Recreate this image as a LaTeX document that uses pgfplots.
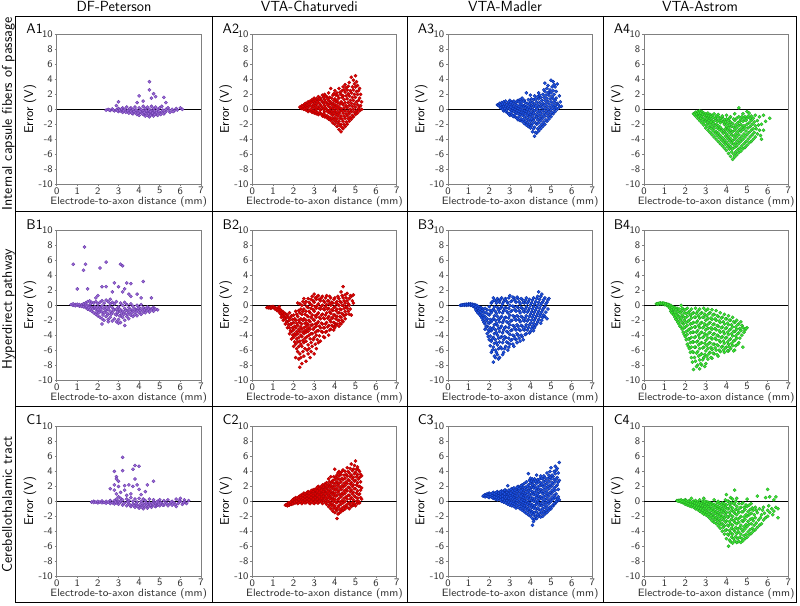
\documentclass[border=0pt]{standalone}
\usepackage{pgfplots}
\pgfplotsset{compat=1.18}
\renewcommand{\familydefault}{\sfdefault}
\definecolor{pfill}{RGB}{155,105,215}
\definecolor{pdraw}{RGB}{105,60,170}
\definecolor{rfill}{RGB}{225,0,0}
\definecolor{rdraw}{RGB}{175,0,0}
\definecolor{bfill}{RGB}{30,85,230}
\definecolor{bdraw}{RGB}{10,45,160}
\definecolor{gfill}{RGB}{60,235,50}
\definecolor{gdraw}{RGB}{35,165,35}
\pgfplotsset{
 panel/.style={
  scale only axis, width=108.2pt, height=112pt,
  xmin=0, xmax=7, ymin=-10, ymax=10,
  xtick={0,1,...,7}, ytick={-10,-8,...,10},
  axis line style={draw=black!50, line width=0.6pt},
  tick style={draw=black!50, line width=0.5pt},
  tick align=outside, tick pos=left, major tick length=1.5pt,
  /pgf/number format/assume math mode=true,
  ticklabel style={font=\fontsize{7.5}{8}\selectfont, text=black!80},
  xticklabel style={inner sep=0.8pt},
  yticklabel style={inner sep=1.2pt},
  xlabel={Electrode-to-axon distance (mm)},
  ylabel={Error (V)},
  every axis x label/.style={at={(axis description cs:0.5,-0.134)}, anchor=base, font=\fontsize{8}{9}\selectfont, text=black!80},
  every axis y label/.style={at={(axis description cs:-0.185,0.5)}, anchor=center, rotate=90, font=\fontsize{9.5}{10}\selectfont},
 },
 pu/.style={only marks, mark=*, mark size=1.2pt, mark options={fill=pfill, draw=pdraw, line width=0.3pt}},
 re/.style={only marks, mark=*, mark size=1.2pt, mark options={fill=rfill, draw=rdraw, line width=0.3pt}},
 bl/.style={only marks, mark=*, mark size=1.2pt, mark options={fill=bfill, draw=bdraw, line width=0.3pt}},
 gr/.style={only marks, mark=*, mark size=1.2pt, mark options={fill=gfill, draw=gdraw, line width=0.3pt}},
 zl/.style={black, line width=0.6pt, forget plot},
}
\begin{document}
\begin{tikzpicture}
\useasboundingbox (0,0) rectangle (600pt,-454.5pt);
% frame
\draw[black, line width=0.7pt] (11.8pt,-12pt) rectangle (597.4pt,-451.7pt);
\foreach \xx in {159pt,305.3pt,452.3pt} \draw[black, line width=0.7pt] (\xx,-12pt) -- (\xx,-451.7pt);
\foreach \yy in {-158.8pt,-305pt} \draw[black, line width=0.7pt] (11.8pt,\yy) -- (597.4pt,\yy);
% headers
\begin{scope}[every node/.style={font=\fontsize{11}{12}\selectfont, anchor=base}]
\node at (85.5pt,-8.8pt) {DF-Peterson};
\node at (232pt,-8.8pt) {VTA-Chaturvedi};
\node at (378.8pt,-8.8pt) {VTA-Madler};
\node at (525pt,-8.8pt) {VTA-Astrom};
\end{scope}
\begin{scope}[every node/.style={font=\fontsize{10.5}{12}\selectfont, anchor=base, rotate=90}]
\node at (9pt,-85.4pt) {Internal capsule fibers of passage};
\node at (9pt,-231.9pt) {Hyperdirect pathway};
\node at (9pt,-378.4pt) {Cerebellothalamic tract};
\end{scope}
\begin{scope}[every node/.style={font=\fontsize{10.5}{12}\selectfont, anchor=base west}]
\node at (16.3pt,-25pt) {A1}; \node at (163.5pt,-25pt) {A2}; \node at (309.8pt,-25pt) {A3}; \node at (456.8pt,-25pt) {A4};
\node at (16.3pt,-172pt) {B1}; \node at (163.5pt,-172pt) {B2}; \node at (309.8pt,-172pt) {B3}; \node at (456.8pt,-172pt) {B4};
\node at (16.3pt,-318.5pt) {C1}; \node at (163.5pt,-318.5pt) {C2}; \node at (309.8pt,-318.5pt) {C3}; \node at (456.8pt,-318.5pt) {C4};
\end{scope}

% ---------------- A1
\begin{axis}[panel, at={(42.5pt,-138pt)}, anchor=south west]
\addplot[pu] coordinates {(2.4,-0.1)(2.5,0)(2.6,-0.15)(2.7,0.05)(2.8,-0.2)(2.9,-0.05)(3.0,-0.3)(3.0,0.1)(3.1,-0.2)(3.2,0.2)(3.2,-0.4)(3.3,0)(3.4,-0.3)(3.4,0.3)(3.5,-0.5)(3.5,-0.1)(3.6,0.2)(3.6,-0.3)(3.7,-0.6)(3.7,0)(3.8,0.3)(3.8,-0.4)(3.9,-0.7)(3.9,-0.2)(4.0,0.2)(4.0,-0.5)(4.0,-0.8)(4.1,0)(4.1,-0.4)(4.2,0.4)(4.2,-0.7)(4.2,-0.2)(4.3,-0.9)(4.3,0.1)(4.3,-0.5)(4.4,0.3)(4.4,-0.3)(4.4,-0.8)(4.5,-1.0)(4.5,0)(4.5,-0.5)(4.6,0.4)(4.6,-0.7)(4.6,-0.2)(4.7,-0.9)(4.7,0.1)(4.7,-0.4)(4.8,0.3)(4.8,-0.6)(4.9,-0.8)(4.9,0)(5.0,0.2)(5.0,-0.5)(5.1,-0.3)(5.1,0.4)(5.2,-0.6)(5.3,0)(5.3,-0.3)(5.4,0.2)(5.5,-0.4)(5.6,0)(5.7,-0.2)(5.8,0.1)(6.0,0.2)(6.1,0)
(4.5,3.7)(4.5,2.6)(4.7,2.1)(4.0,1.8)(4.8,1.7)(5.2,1.6)(4.6,1.5)(3.0,1.0)(5.3,0.9)(2.9,0.5)(3.9,0.9)(4.2,1.1)
(2.55,-0.1)(2.75,-0.1)(2.95,-0.2)(3.05,-0.1)(3.15,0.05)(3.25,-0.2)(3.35,-0.4)(3.45,-0.2)(3.55,0.1)(3.65,-0.5)(3.75,-0.3)(3.85,-0.1)(3.95,-0.5)(4.05,-0.3)(4.15,-0.6)(4.25,-0.4)(4.35,-0.2)(4.45,-0.6)(4.55,-0.8)(4.55,-0.3)(4.65,-0.5)(4.75,-0.7)(4.75,-0.2)(4.85,-0.4)(4.95,-0.3)(5.05,-0.7)(5.15,-0.1)(5.25,-0.4)(5.45,-0.1)(5.65,-0.3)(5.85,-0.1)};
\addplot[zl] coordinates {(0,0)(7,0)};
\end{axis}
% ---------------- A2
\begin{axis}[panel, at={(189.3pt,-138pt)}, anchor=south west]
\addplot[re] coordinates {(2.3,0.3)(2.4,0.1)(2.4,0.5)(2.5,0)(2.5,0.6)(2.5,0.3)(2.6,-0.1)(2.6,0.8)(2.6,0.4)(2.7,-0.3)(2.7,1.0)(2.7,0.3)(2.8,-0.2)(2.8,0.5)(2.8,1.1)(2.9,-0.4)(2.9,0.3)(2.9,1.3)
(3.0,-0.5)(3.0,0.2)(3.0,0.9)(3.0,1.5)(3.1,-0.6)(3.1,0)(3.1,0.7)(3.1,1.4)(3.2,-0.7)(3.2,0.3)(3.2,1.2)(3.2,1.7)(3.3,-0.5)(3.3,-0.1)(3.3,0.6)(3.3,1.5)(3.4,-0.9)(3.4,0.2)(3.4,1.0)(3.4,1.9)
(3.5,-1.0)(3.5,-0.3)(3.5,0.5)(3.5,1.3)(3.5,2.0)(3.6,-1.1)(3.6,0)(3.6,0.9)(3.6,1.7)(3.7,-1.3)(3.7,-0.4)(3.7,0.4)(3.7,1.2)(3.7,2.2)(3.8,-1.5)(3.8,-0.6)(3.8,0.2)(3.8,1.0)(3.8,2.8)(3.9,-1.8)(3.9,-0.8)(3.9,0.1)(3.9,0.8)(3.9,1.9)
(4.0,-2.0)(4.0,-1.1)(4.0,-0.2)(4.0,0.6)(4.0,1.4)(4.0,2.5)(4.1,-2.3)(4.1,-1.3)(4.1,-0.4)(4.1,0.5)(4.1,1.2)(4.1,2.2)(4.2,-2.7)(4.2,-1.6)(4.2,-0.6)(4.2,0.3)(4.2,1.5)(4.2,2.8)(4.3,-3.0)(4.3,-2.0)(4.3,-0.9)(4.3,0.1)(4.3,1.0)(4.3,2.0)
(4.4,-2.6)(4.4,-1.6)(4.4,-0.5)(4.4,0.6)(4.4,1.8)(4.4,3.0)(4.5,-2.3)(4.5,-1.2)(4.5,-0.2)(4.5,0.9)(4.5,2.3)(4.5,3.3)(4.6,-2.0)(4.6,-0.9)(4.6,0.2)(4.6,1.4)(4.6,2.6)(4.7,-1.6)(4.7,-0.6)(4.7,0.5)(4.7,1.8)(4.7,3.6)
(4.8,-1.3)(4.8,-0.3)(4.8,0.8)(4.8,2.2)(4.8,4.3)(4.9,-1.0)(4.9,0)(4.9,1.2)(4.9,2.6)(4.9,3.9)(5.0,-0.7)(5.0,0.3)(5.0,1.6)(5.0,3.0)(5.0,4.5)(5.1,-0.5)(5.1,0.6)(5.1,2.0)(5.1,3.2)(5.2,-0.2)(5.2,0.4)(5.2,1.5)(5.2,2.8)(5.3,0)(5.3,1.0)
(2.35,0.2)(2.45,0.4)(2.55,0.15)(2.55,0.75)(2.65,0.2)(2.65,0.6)(2.75,-0.1)(2.75,0.7)(2.85,0)(2.85,0.9)(2.95,-0.2)(2.95,0.6)(2.95,1.1)(3.05,-0.3)(3.05,0.5)(3.05,1.2)(3.15,-0.4)(3.15,0.3)(3.15,1.0)(3.25,-0.5)(3.25,0.1)(3.25,0.8)(3.25,1.4)(3.35,-0.7)(3.35,0.4)(3.35,1.2)(3.45,-0.6)(3.45,0)(3.45,0.8)(3.45,1.6)(3.55,-0.8)(3.55,0.2)(3.55,1.0)(3.55,1.8)(3.65,-0.9)(3.65,-0.3)(3.65,0.6)(3.65,1.4)(3.75,-1.1)(3.75,-0.1)(3.75,0.8)(3.75,1.6)(3.85,-1.2)(3.85,-0.3)(3.85,0.6)(3.85,1.5)(3.95,-1.4)(3.95,-0.5)(3.95,0.4)(3.95,1.2)(3.95,2.1)(4.05,-1.6)(4.05,-0.7)(4.05,0.2)(4.05,1.0)(4.05,1.9)(4.15,-1.9)(4.15,-0.9)(4.15,0)(4.15,0.9)(4.15,1.8)(4.25,-2.2)(4.25,-1.2)(4.25,-0.3)(4.25,0.7)(4.25,2.3)(4.35,-2.4)(4.35,-1.3)(4.35,-0.2)(4.35,0.8)(4.35,1.6)(4.35,2.5)(4.45,-2.0)(4.45,-0.9)(4.45,0.2)(4.45,1.3)(4.45,2.6)(4.55,-1.7)(4.55,-0.6)(4.55,0.5)(4.55,1.8)(4.55,2.9)(4.65,-1.3)(4.65,-0.3)(4.65,0.9)(4.65,2.1)(4.65,3.1)(4.75,-1.1)(4.75,0)(4.75,1.2)(4.75,2.5)(4.85,-0.8)(4.85,0.4)(4.85,1.6)(4.85,3.0)(4.95,-0.4)(4.95,0.7)(4.95,2.0)(4.95,3.4)(5.05,-0.2)(5.05,1.0)(5.05,2.4)(5.05,3.7)(5.15,0.1)(5.15,1.2)(5.15,2.5)(5.25,0.5)(5.25,2.0)};
\addplot[zl] coordinates {(0,0)(7,0)};
\end{axis}
% ---------------- A3
\begin{axis}[panel, at={(336pt,-138pt)}, anchor=south west]
\addplot[bl] coordinates {(2.4,0.6)(2.5,0.4)(2.5,0.8)(2.6,0.2)(2.6,0.9)(2.6,0.5)(2.7,-0.2)(2.7,0.4)(2.7,1.0)(2.8,-0.3)(2.8,0.3)(2.8,1.1)(2.9,-0.5)(2.9,0.2)(2.9,0.8)
(3.0,-0.8)(3.0,0)(3.0,0.6)(3.0,1.2)(3.1,-0.7)(3.1,-0.2)(3.1,0.4)(3.1,1.0)(3.2,-1.0)(3.2,-0.3)(3.2,0.3)(3.2,1.1)(3.3,-1.1)(3.3,-0.4)(3.3,0.2)(3.3,0.9)(3.4,-1.4)(3.4,-0.6)(3.4,0.1)(3.4,1.2)
(3.5,-1.5)(3.5,-0.7)(3.5,0)(3.5,0.7)(3.5,1.3)(3.6,-1.6)(3.6,-0.8)(3.6,-0.1)(3.6,0.6)(3.6,1.5)(3.7,-1.9)(3.7,-1.0)(3.7,-0.2)(3.7,0.5)(3.7,1.2)(3.8,-2.1)(3.8,-1.2)(3.8,-0.3)(3.8,0.4)(3.8,2.2)(3.9,-2.3)(3.9,-1.4)(3.9,-0.5)(3.9,0.3)(3.9,1.3)
(4.0,-2.5)(4.0,-1.6)(4.0,-0.7)(4.0,0.2)(4.0,1.0)(4.0,1.9)(4.1,-3.0)(4.1,-1.9)(4.1,-0.9)(4.1,0)(4.1,0.9)(4.2,-3.6)(4.2,-2.4)(4.2,-1.2)(4.2,-0.2)(4.2,0.7)(4.2,1.8)(4.3,-3.2)(4.3,-2.0)(4.3,-1.0)(4.3,0)(4.3,1.0)
(4.4,-2.9)(4.4,-1.8)(4.4,-0.8)(4.4,0.3)(4.4,1.4)(4.4,2.2)(4.5,-2.6)(4.5,-1.5)(4.5,-0.5)(4.5,0.5)(4.5,1.6)(4.6,-2.3)(4.6,-1.2)(4.6,-0.2)(4.6,0.8)(4.6,2.0)(4.7,-2.0)(4.7,-0.9)(4.7,0.1)(4.7,1.2)(4.7,2.4)(4.7,3.5)
(4.8,-1.6)(4.8,-0.6)(4.8,0.4)(4.8,1.5)(4.8,2.8)(4.9,-1.3)(4.9,-0.3)(4.9,0.7)(4.9,1.9)(4.9,2.3)(5.0,-1.0)(5.0,0)(5.0,1.0)(5.0,2.2)(5.0,3.9)(5.1,-0.6)(5.1,0.3)(5.1,1.4)(5.1,2.5)(5.1,3.7)(5.2,-0.3)(5.2,0.5)(5.2,1.2)(5.2,3.0)(5.3,0)(5.3,0.8)(5.3,3.4)(5.4,0.3)(5.4,1.8)(5.5,0.4)
(2.45,0.5)(2.55,0.6)(2.55,0.2)(2.65,0)(2.65,0.7)(2.75,0.1)(2.75,0.7)(2.85,-0.1)(2.85,0.6)(2.95,-0.6)(2.95,0.4)(2.95,1.0)(3.05,-0.4)(3.05,0.3)(3.05,0.9)(3.15,-0.9)(3.15,0.1)(3.15,0.7)(3.25,-0.7)(3.25,0)(3.25,0.6)(3.35,-1.2)(3.35,-0.2)(3.35,0.5)(3.35,1.1)(3.45,-1.0)(3.45,-0.3)(3.45,0.4)(3.45,1.0)(3.55,-1.3)(3.55,-0.4)(3.55,0.3)(3.55,1.0)(3.65,-1.4)(3.65,-0.5)(3.65,0.3)(3.65,1.1)(3.75,-1.6)(3.75,-0.6)(3.75,0.2)(3.75,0.9)(3.85,-1.8)(3.85,-0.8)(3.85,0)(3.85,0.8)(3.95,-2.0)(3.95,-1.0)(3.95,-0.1)(3.95,0.7)(4.05,-2.2)(4.05,-1.3)(4.05,-0.4)(4.05,0.5)(4.05,1.4)(4.15,-2.6)(4.15,-1.5)(4.15,-0.5)(4.15,0.4)(4.15,1.3)(4.25,-3.1)(4.25,-1.8)(4.25,-0.7)(4.25,0.3)(4.25,1.4)(4.35,-2.6)(4.35,-1.4)(4.35,-0.4)(4.35,0.6)(4.35,1.7)(4.45,-2.3)(4.45,-1.2)(4.45,-0.2)(4.45,0.9)(4.45,1.9)(4.55,-2.0)(4.55,-0.9)(4.55,0.2)(4.55,1.2)(4.65,-1.7)(4.65,-0.6)(4.65,0.5)(4.65,1.6)(4.65,2.6)(4.75,-1.4)(4.75,-0.3)(4.75,0.8)(4.75,1.9)(4.85,-1.0)(4.85,0)(4.85,1.1)(4.85,2.2)(4.85,3.2)(4.95,-0.7)(4.95,0.3)(4.95,1.4)(4.95,2.6)(5.05,-0.4)(5.05,0.6)(5.05,1.7)(5.05,3.0)(5.15,0)(5.15,0.9)(5.15,2.0)(5.15,3.3)(5.25,0.2)(5.25,1.5)(5.25,2.4)(5.35,0.6)(5.45,1.0)};
\addplot[zl] coordinates {(0,0)(7,0)};
\end{axis}
% ---------------- A4
\begin{axis}[panel, at={(483pt,-138pt)}, anchor=south west]
\addplot[gr] coordinates {(2.4,-0.6)(2.5,-0.4)(2.5,-0.9)(2.6,-0.3)(2.6,-1.2)(2.6,-0.7)(2.7,-0.2)(2.7,-1.5)(2.7,-0.8)(2.8,-0.3)(2.8,-1.8)(2.8,-1.0)(2.9,-0.5)(2.9,-2.1)(2.9,-1.3)
(3.0,-0.6)(3.0,-2.5)(3.0,-1.5)(3.0,-1.0)(3.1,-0.5)(3.1,-2.8)(3.1,-1.8)(3.1,-1.1)(3.2,-0.7)(3.2,-3.1)(3.2,-2.0)(3.2,-1.3)(3.3,-0.8)(3.3,-3.4)(3.3,-2.3)(3.3,-1.5)(3.4,-0.6)(3.4,-3.7)(3.4,-2.6)(3.4,-1.6)
(3.5,-0.9)(3.5,-4.0)(3.5,-3.0)(3.5,-2.0)(3.5,-1.3)(3.6,-1.0)(3.6,-4.3)(3.6,-3.2)(3.6,-2.2)(3.6,-0.7)(3.7,-1.2)(3.7,-4.6)(3.7,-3.5)(3.7,-2.4)(3.7,-1.8)(3.8,-1.1)(3.8,-4.9)(3.8,-3.8)(3.8,-2.7)(3.8,-0.9)(3.9,-1.4)(3.9,-5.2)(3.9,-4.1)(3.9,-3.0)(3.9,-2.0)
(4.0,-1.3)(4.0,-5.5)(4.0,-4.4)(4.0,-3.3)(4.0,-2.3)(4.0,-0.8)(4.1,-1.5)(4.1,-5.9)(4.1,-4.7)(4.1,-3.6)(4.1,-2.5)(4.2,-1.7)(4.2,-6.3)(4.2,-5.0)(4.2,-3.9)(4.2,-2.8)(4.2,-1.0)(4.3,-1.9)(4.3,-6.7)(4.3,-5.3)(4.3,-4.2)(4.3,-3.0)
(4.4,-1.5)(4.4,-6.4)(4.4,-5.1)(4.4,-4.0)(4.4,-2.8)(4.4,-0.6)(4.5,-1.2)(4.5,-6.1)(4.5,-4.9)(4.5,-3.7)(4.5,-2.5)(4.6,-1.0)(4.6,-5.8)(4.6,-4.6)(4.6,-3.4)(4.6,-2.2)(4.6,0.2)(4.7,-1.3)(4.7,-5.6)(4.7,-4.3)(4.7,-3.0)(4.7,-2.0)
(4.8,-0.6)(4.8,-5.3)(4.8,-4.0)(4.8,-2.7)(4.8,-1.6)(4.9,-1.0)(4.9,-5.1)(4.9,-3.7)(4.9,-2.4)(5.0,-0.3)(5.0,-4.8)(5.0,-3.4)(5.0,-2.0)(5.0,-1.2)(5.1,-0.5)(5.1,-4.5)(5.1,-3.1)(5.1,-1.8)(5.2,-0.9)(5.2,-4.3)(5.2,-2.8)(5.2,-1.5)
(5.3,-1.2)(5.3,-4.0)(5.3,-2.6)(5.4,-0.8)(5.4,-3.7)(5.4,-2.2)(5.5,-1.5)(5.5,-3.3)(5.6,-1.0)(5.6,-2.8)(5.7,-2.0)(5.7,-4.0)(5.8,-0.8)(5.8,-2.8)(6.1,-1.2)
(2.45,-0.7)(2.55,-0.6)(2.65,-0.5)(2.65,-1.0)(2.75,-0.5)(2.75,-1.2)(2.85,-0.7)(2.85,-1.4)(2.95,-0.8)(2.95,-1.7)(3.05,-0.8)(3.05,-1.3)(3.05,-2.1)(3.15,-0.9)(3.15,-1.5)(3.15,-2.4)(3.25,-1.0)(3.25,-1.7)(3.25,-2.6)(3.35,-1.1)(3.35,-1.9)(3.35,-2.9)(3.45,-1.2)(3.45,-2.2)(3.45,-3.2)(3.55,-1.6)(3.55,-2.5)(3.55,-3.5)(3.65,-1.5)(3.65,-2.7)(3.65,-3.8)(3.75,-1.5)(3.75,-2.9)(3.75,-4.1)(3.85,-1.7)(3.85,-3.2)(3.85,-4.4)(3.95,-1.7)(3.95,-2.6)(3.95,-3.6)(3.95,-4.7)(4.05,-1.9)(4.05,-2.8)(4.05,-3.9)(4.05,-5.0)(4.15,-1.2)(4.15,-2.1)(4.15,-3.1)(4.15,-4.2)(4.15,-5.3)(4.25,-2.3)(4.25,-3.4)(4.25,-4.5)(4.25,-5.7)(4.35,-1.3)(4.35,-2.4)(4.35,-3.6)(4.35,-4.7)(4.35,-6.0)(4.45,-2.1)(4.45,-3.3)(4.45,-4.5)(4.45,-5.7)(4.55,-1.8)(4.55,-3.0)(4.55,-4.2)(4.55,-5.4)(4.65,-1.6)(4.65,-2.7)(4.65,-3.9)(4.65,-5.2)(4.75,-1.0)(4.75,-2.4)(4.75,-3.6)(4.75,-4.9)(4.85,-1.2)(4.85,-2.2)(4.85,-3.3)(4.85,-4.6)(4.95,-1.5)(4.95,-2.9)(4.95,-4.3)(5.05,-0.9)(5.05,-2.5)(5.05,-4.0)(5.15,-1.2)(5.15,-2.3)(5.15,-3.7)(5.25,-2.0)(5.25,-3.4)(5.35,-1.7)(5.35,-3.1)(5.45,-2.6)(5.55,-2.1)(5.65,-3.5)(5.9,-1.6)};
\addplot[zl] coordinates {(0,0)(7,0)};
\end{axis}

% ---------------- B1
\begin{axis}[panel, at={(42.5pt,-285pt)}, anchor=south west]
\addplot[pu] coordinates {(0.7,0.1)(0.8,0)(0.8,0.2)(0.9,0.1)(0.9,-0.05)(1.0,0)(1.0,0.15)(1.1,-0.1)(1.1,0.1)(1.2,0.05)(1.2,-0.15)(1.3,-0.2)(1.3,0.2)(1.4,0.3)(1.4,-0.3)(1.4,0)(1.5,-0.5)(1.5,0.5)(1.5,0)(1.6,-0.6)(1.6,0.6)(1.6,-0.2)(1.7,-0.8)(1.7,0.4)(1.7,-0.3)(1.8,-1.0)(1.8,0.3)(1.8,-0.4)(1.9,-1.2)(1.9,0.5)(1.9,-0.5)
(2.0,-1.4)(2.0,0.2)(2.0,-0.6)(2.0,-0.2)(2.1,-1.6)(2.1,0.4)(2.1,-0.8)(2.1,-0.3)(2.2,-1.8)(2.2,0.6)(2.2,-0.9)(2.2,-0.1)(2.3,-2.0)(2.3,0.3)(2.3,-1.0)(2.3,-0.4)(2.4,-1.5)(2.4,0.7)(2.4,-0.7)(2.4,-0.2)(2.5,-1.9)(2.5,0.5)(2.5,-1.2)(2.5,-0.5)
(2.6,-1.6)(2.6,0.2)(2.6,-0.8)(2.6,0.8)(2.7,-2.1)(2.7,-1.0)(2.7,-0.3)(2.7,0.4)(2.8,-1.8)(2.8,-0.6)(2.8,0.2)(2.9,-2.2)(2.9,-1.3)(2.9,-0.5)(2.9,0.5)(3.0,-1.9)(3.0,-0.9)(3.0,-0.2)(3.1,-2.3)(3.1,-1.4)(3.1,-0.6)(3.1,0.3)
(3.2,-1.6)(3.2,-0.8)(3.2,0)(3.3,-2.0)(3.3,-1.1)(3.3,-0.4)(3.3,0.4)(3.4,-1.5)(3.4,-0.7)(3.4,0.1)(3.5,-1.8)(3.5,-1.0)(3.5,-0.3)(3.6,-1.3)(3.6,-0.6)(3.6,0.2)(3.7,-1.5)(3.7,-0.8)(3.7,-0.1)(3.8,-1.2)(3.8,-0.5)(3.9,-1.4)(3.9,-0.7)(3.9,0)
(4.0,-1.0)(4.0,-0.3)(4.1,-1.2)(4.1,-0.6)(4.1,0.1)(4.2,-0.9)(4.2,-0.3)(4.3,-1.0)(4.3,-0.5)(4.4,-0.7)(4.4,-0.2)(4.5,-0.9)(4.5,-0.4)(4.6,-0.6)(4.7,-0.8)(4.7,-0.3)(4.8,-0.5)(4.9,-0.6)
(0.8,5.5)(1.3,4.7)(1.35,7.8)(1.4,5.5)(2.1,5.0)(2.4,5.8)(3.1,5.5)(3.2,5.3)(4.2,3.2)(3.4,3.0)(2.8,3.0)(1.0,2.2)(1.5,2.2)(2.2,2.5)(2.4,2.5)(3.0,2.5)(3.3,2.2)(3.6,2.9)(3.9,1.5)(4.1,1.0)(4.6,1.0)(2.7,1.8)(3.5,1.5)(2.0,1.3)(1.9,1.0)(3.2,1.8)(3.6,1.2)(2.2,-2.5)(3.3,-2.7)(2.5,-2.2)(3.0,-2.4)
(1.45,-0.15)(1.55,-0.3)(1.65,0.2)(1.75,-0.5)(1.85,-0.2)(1.95,-0.9)(2.05,-1.0)(2.15,-0.5)(2.25,-1.3)(2.35,-0.6)(2.45,-1.1)(2.55,-0.2)(2.65,-1.2)(2.75,-0.6)(2.85,-1.2)(2.95,-0.9)(3.05,-1.4)(3.05,-0.5)(3.15,-1.0)(3.25,-1.2)(3.35,-0.7)(3.45,-1.2)(3.55,-0.6)(3.65,-1.0)(3.75,-0.5)(3.85,-0.9)(3.95,-0.4)(4.05,-0.7)(4.25,-0.6)(4.45,-0.5)(4.65,-0.4)};
\addplot[zl] coordinates {(0,0)(7,0)};
\end{axis}
% ---------------- B2
\begin{axis}[panel, at={(189.3pt,-285pt)}, anchor=south west]
\addplot[re] coordinates {(0.7,-0.3)(0.8,-0.25)(0.8,-0.35)(0.9,-0.2)(0.9,-0.4)(1.0,-0.15)(1.0,-0.3)(1.1,-0.3)(1.1,-0.5)(1.2,-0.4)(1.2,-0.7)(1.3,-0.5)(1.3,-0.9)(1.3,-0.2)(1.4,-0.7)(1.4,-1.2)(1.4,-1.6)(1.5,-0.9)(1.5,-1.5)(1.5,-2.0)(1.6,-1.1)(1.6,-1.8)(1.6,-2.5)(1.7,-1.3)(1.7,-2.2)(1.7,-3.0)
(1.8,-1.0)(1.8,-2.0)(1.8,-3.0)(1.8,-3.8)(1.9,-1.4)(1.9,-2.5)(1.9,-3.5)(1.9,-4.5)(2.0,-1.3)(2.0,-2.3)(2.0,-3.3)(2.0,-4.3)(2.0,-5.5)(2.1,-0.8)(2.1,-2.0)(2.1,-3.0)(2.1,-4.0)(2.1,-5.2)(2.1,-7.0)(2.2,0.3)(2.2,-1.5)(2.2,-2.7)(2.2,-3.8)(2.2,-4.9)(2.2,-6.2)
(2.3,0.2)(2.3,-1.0)(2.3,-2.3)(2.3,-3.5)(2.3,-4.8)(2.3,-6.5)(2.3,-8.3)(2.4,0)(2.4,-1.2)(2.4,-2.5)(2.4,-3.2)(2.4,-4.2)(2.4,-5.5)(2.4,-7.8)(2.5,0.9)(2.5,-0.5)(2.5,-1.8)(2.5,-3.0)(2.5,-3.8)(2.5,-5.0)(2.5,-6.8)
(2.6,0.5)(2.6,-0.8)(2.6,-2.0)(2.6,-2.8)(2.6,-3.6)(2.6,-4.8)(2.6,-7.5)(2.7,0.9)(2.7,-0.3)(2.7,-1.5)(2.7,-2.6)(2.7,-3.5)(2.7,-5.3)(2.7,-6.5)(2.8,0.2)(2.8,-1.0)(2.8,-2.2)(2.8,-3.2)(2.8,-4.5)(2.8,-7.0)(2.9,1.2)(2.9,0)(2.9,-1.3)(2.9,-2.6)(2.9,-3.8)(2.9,-5.5)
(3.0,1.5)(3.0,0.4)(3.0,-0.8)(3.0,-2.0)(3.0,-3.0)(3.0,-4.3)(3.0,-6.5)(3.1,0.8)(3.1,-0.4)(3.1,-1.6)(3.1,-2.8)(3.1,-4.0)(3.1,-5.8)(3.2,1.3)(3.2,0.2)(3.2,-1.0)(3.2,-2.2)(3.2,-3.4)(3.2,-5.0)(3.3,0.6)(3.3,-0.5)(3.3,-1.8)(3.3,-3.0)(3.3,-4.8)
(3.4,1.2)(3.4,0)(3.4,-1.2)(3.4,-2.5)(3.4,-3.6)(3.5,0.4)(3.5,-0.6)(3.5,-1.8)(3.5,-3.0)(3.5,-4.3)(3.6,1.3)(3.6,0.1)(3.6,-1.0)(3.6,-2.3)(3.6,-3.5)(3.7,0.6)(3.7,-0.4)(3.7,-1.5)(3.7,-2.7)(3.7,-4.0)(3.8,1.0)(3.8,0)(3.8,-1.1)(3.8,-2.2)(3.8,-3.2)
(3.9,0.3)(3.9,-0.7)(3.9,-1.7)(3.9,-2.8)(4.0,1.0)(4.0,-0.2)(4.0,-1.3)(4.0,-2.4)(4.0,-3.0)(4.1,0.5)(4.1,-0.5)(4.1,-1.5)(4.1,-2.5)(4.2,0.9)(4.2,0)(4.2,-1.0)(4.2,-2.0)(4.2,-2.8)(4.3,1.8)(4.3,0.4)(4.3,-0.6)(4.3,-1.6)(4.3,-2.5)
(4.4,2.5)(4.4,1.0)(4.4,0)(4.4,-1.2)(4.4,-2.2)(4.5,1.4)(4.5,0.3)(4.5,-0.8)(4.5,-1.8)(4.6,1.6)(4.6,0.6)(4.6,-0.4)(4.7,0.9)(4.7,0)(4.7,-1.2)(4.8,1.2)(4.8,-1.3)(4.9,1.4)(4.9,0.3)
(0.75,-0.28)(0.85,-0.3)(0.95,-0.3)(1.05,-0.25)(1.15,-0.4)(1.25,-0.55)(1.35,-0.6)(1.35,-1.1)(1.45,-1.0)(1.45,-1.4)(1.55,-1.2)(1.55,-1.8)(1.65,-1.5)(1.65,-2.2)(1.75,-1.7)(1.75,-2.6)(1.85,-1.6)(1.85,-2.5)(1.85,-3.4)(1.95,-1.9)(1.95,-3.0)(1.95,-4.0)(2.05,-1.8)(2.05,-2.8)(2.05,-3.8)(2.05,-4.9)(2.15,-1.2)(2.15,-2.4)(2.15,-3.5)(2.15,-4.5)(2.15,-5.8)(2.25,-0.7)(2.25,-2.0)(2.25,-3.2)(2.25,-4.3)(2.25,-5.5)(2.25,-7.2)(2.35,-0.5)(2.35,-1.8)(2.35,-2.9)(2.35,-4.0)(2.35,-5.2)(2.35,-7.0)(2.45,0.5)(2.45,-0.8)(2.45,-2.0)(2.45,-3.6)(2.45,-4.7)(2.45,-6.2)(2.55,0.2)(2.55,-1.2)(2.55,-2.4)(2.55,-3.4)(2.55,-4.4)(2.55,-5.8)(2.65,-0.2)(2.65,-1.4)(2.65,-2.4)(2.65,-3.2)(2.65,-4.2)(2.65,-6.0)(2.75,0.4)(2.75,-0.8)(2.75,-2.0)(2.75,-3.0)(2.75,-4.0)(2.75,-5.8)(2.85,0.8)(2.85,-0.4)(2.85,-1.6)(2.85,-2.7)(2.85,-3.8)(2.85,-5.0)(2.85,-6.2)(2.95,0.6)(2.95,-0.6)(2.95,-1.9)(2.95,-3.2)(2.95,-4.6)(3.05,1.0)(3.05,-0.2)(3.05,-1.4)(3.05,-2.5)(3.05,-3.6)(3.05,-5.2)(3.15,1.2)(3.15,0)(3.15,-1.2)(3.15,-2.4)(3.15,-3.4)(3.15,-4.6)(3.25,0.8)(3.25,-0.4)(3.25,-1.6)(3.25,-2.8)(3.25,-4.1)(3.35,1.0)(3.35,-0.1)(3.35,-1.3)(3.35,-2.4)(3.35,-3.5)(3.45,0.6)(3.45,-0.5)(3.45,-1.7)(3.45,-3.0)(3.45,-4.2)(3.55,1.0)(3.55,-0.2)(3.55,-1.3)(3.55,-2.5)(3.55,-3.6)(3.65,0.6)(3.65,-0.5)(3.65,-1.7)(3.65,-2.9)(3.75,1.2)(3.75,0.2)(3.75,-0.9)(3.75,-2.0)(3.75,-3.3)(3.85,0.4)(3.85,-0.6)(3.85,-1.7)(3.85,-2.7)(3.95,0.8)(3.95,-0.3)(3.95,-1.3)(3.95,-2.3)(3.95,-3.3)(4.05,0.3)(4.05,-0.7)(4.05,-1.8)(4.05,-2.7)(4.15,1.2)(4.15,0.1)(4.15,-1.0)(4.15,-2.0)(4.25,0.5)(4.25,-0.5)(4.25,-1.5)(4.25,-2.4)(4.35,1.3)(4.35,0)(4.35,-1.1)(4.35,-2.0)(4.45,0.6)(4.45,-0.4)(4.45,-1.4)(4.55,1.0)(4.55,-0.2)(4.55,-1.2)(4.65,0.2)(4.65,-0.8)(4.75,1.3)(4.75,-0.5)(4.85,0.6)};
\addplot[zl] coordinates {(0,0)(7,0)};
\end{axis}
% ---------------- B3
\begin{axis}[panel, at={(336pt,-285pt)}, anchor=south west]
\addplot[bl] coordinates {(0.6,0)(0.7,0.05)(0.8,0.1)(0.8,0)(0.9,0.15)(0.9,0)(1.0,0.2)(1.0,0.05)(1.1,0.2)(1.1,0)(1.2,0.15)(1.2,-0.1)(1.3,0.1)(1.3,-0.3)(1.4,0)(1.4,-0.5)(1.4,-0.8)(1.5,-0.2)(1.5,-0.7)(1.5,-1.1)(1.6,-0.3)(1.6,-1.0)(1.6,-1.5)(1.7,-0.5)(1.7,-1.3)(1.7,-2.0)
(1.8,-0.4)(1.8,-1.5)(1.8,-2.5)(1.8,-3.2)(1.9,-0.6)(1.9,-1.8)(1.9,-2.8)(1.9,-3.8)(2.0,-0.2)(2.0,-1.3)(2.0,-2.4)(2.0,-3.5)(2.0,-4.6)(2.1,0.3)(2.1,-1.0)(2.1,-2.2)(2.1,-3.4)(2.1,-4.8)(2.1,-6.3)(2.2,1.0)(2.2,-0.5)(2.2,-1.8)(2.2,-3.0)(2.2,-4.3)(2.2,-5.6)(2.2,-7.6)
(2.3,0.6)(2.3,-0.8)(2.3,-2.0)(2.3,-3.3)(2.3,-4.6)(2.3,-6.0)(2.3,-7.0)(2.4,0.9)(2.4,-0.3)(2.4,-1.5)(2.4,-2.7)(2.4,-4.0)(2.4,-5.3)(2.4,-6.6)(2.5,0.4)(2.5,-0.9)(2.5,-2.2)(2.5,-3.5)(2.5,-4.9)(2.5,-7.0)(2.6,1.0)(2.6,-0.2)(2.6,-1.5)(2.6,-2.8)(2.6,-4.2)(2.6,-5.8)
(2.7,0.5)(2.7,-0.7)(2.7,-2.0)(2.7,-3.3)(2.7,-4.6)(2.7,-6.3)(2.8,0.9)(2.8,-0.3)(2.8,-1.6)(2.8,-2.9)(2.8,-4.3)(2.8,-5.5)(2.9,0.3)(2.9,-1.0)(2.9,-2.3)(2.9,-3.6)(2.9,-5.0)(2.9,-6.0)(3.0,1.3)(3.0,0)(3.0,-1.3)(3.0,-2.6)(3.0,-3.9)(3.0,-5.2)
(3.1,0.6)(3.1,-0.7)(3.1,-2.0)(3.1,-3.3)(3.1,-4.6)(3.2,1.0)(3.2,-0.2)(3.2,-1.5)(3.2,-2.8)(3.2,-4.1)(3.2,-5.5)(3.3,0.4)(3.3,-0.8)(3.3,-2.0)(3.3,-3.3)(3.3,-4.6)(3.4,0.9)(3.4,-0.3)(3.4,-1.5)(3.4,-2.8)(3.4,-4.0)(3.5,0.2)(3.5,-1.0)(3.5,-2.2)(3.5,-3.4)(3.5,-4.8)
(3.6,0.8)(3.6,-0.4)(3.6,-1.6)(3.6,-2.8)(3.6,-4.2)(3.7,0.3)(3.7,-0.9)(3.7,-2.1)(3.7,-3.3)(3.8,1.0)(3.8,-0.2)(3.8,-1.4)(3.8,-2.6)(3.8,-3.8)(3.9,0.5)(3.9,-0.7)(3.9,-1.9)(3.9,-3.0)(4.0,0)(4.0,-1.2)(4.0,-2.4)(4.0,-3.5)
(4.1,0.7)(4.1,-0.5)(4.1,-1.6)(4.1,-2.8)(4.2,0.2)(4.2,-0.9)(4.2,-2.0)(4.2,-3.0)(4.3,0.9)(4.3,-0.3)(4.3,-1.4)(4.3,-2.5)(4.4,1.8)(4.4,0.4)(4.4,-0.8)(4.4,-1.9)(4.5,1.2)(4.5,0)(4.5,-1.2)(4.5,-2.4)(4.6,0.5)(4.6,-0.6)(4.6,-1.6)(4.7,1.0)(4.7,-0.2)(4.7,-1.5)(4.8,0.4)(4.8,-1.8)(4.9,0.9)
(0.65,0.02)(0.75,0.08)(0.85,0.12)(0.95,0.1)(1.05,0.12)(1.15,0.1)(1.25,0)(1.35,-0.2)(1.35,-0.6)(1.45,-0.4)(1.45,-1.0)(1.55,-0.5)(1.55,-1.3)(1.65,-0.7)(1.65,-1.7)(1.75,-0.9)(1.75,-1.7)(1.75,-2.3)(1.85,-1.0)(1.85,-2.0)(1.85,-2.9)(1.95,-1.2)(1.95,-2.3)(1.95,-3.3)(1.95,-4.2)(2.05,-0.7)(2.05,-1.9)(2.05,-3.0)(2.05,-4.1)(2.05,-5.4)(2.15,0.5)(2.15,-0.7)(2.15,-2.0)(2.15,-3.2)(2.15,-4.5)(2.15,-6.0)(2.25,0.7)(2.25,-0.2)(2.25,-1.4)(2.25,-2.6)(2.25,-3.8)(2.25,-5.1)(2.25,-6.8)(2.35,0.3)(2.35,-1.1)(2.35,-2.4)(2.35,-3.7)(2.35,-5.0)(2.35,-6.3)(2.45,0.6)(2.45,-0.6)(2.45,-1.9)(2.45,-3.1)(2.45,-4.4)(2.45,-5.8)(2.45,-7.2)(2.55,0.8)(2.55,-0.4)(2.55,-1.7)(2.55,-3.0)(2.55,-4.3)(2.55,-5.6)(2.65,0.2)(2.65,-1.0)(2.65,-2.3)(2.65,-3.7)(2.65,-5.0)(2.65,-6.6)(2.75,0.8)(2.75,-0.4)(2.75,-1.7)(2.75,-3.0)(2.75,-4.2)(2.75,-5.8)(2.85,0.5)(2.85,-0.8)(2.85,-2.2)(2.85,-3.5)(2.85,-4.9)(2.95,1.0)(2.95,-0.4)(2.95,-1.7)(2.95,-3.0)(2.95,-4.4)(2.95,-5.6)(3.05,0.5)(3.05,-0.8)(3.05,-2.1)(3.05,-3.4)(3.05,-4.7)(3.15,1.1)(3.15,-0.1)(3.15,-1.4)(3.15,-2.7)(3.15,-4.0)(3.15,-5.2)(3.25,0.7)(3.25,-0.6)(3.25,-1.8)(3.25,-3.1)(3.25,-4.4)(3.35,1.1)(3.35,-0.2)(3.35,-1.4)(3.35,-2.6)(3.35,-3.8)(3.35,-5.0)(3.45,0.5)(3.45,-0.7)(3.45,-1.9)(3.45,-3.2)(3.45,-4.4)(3.55,0.9)(3.55,-0.3)(3.55,-1.5)(3.55,-2.7)(3.55,-4.0)(3.65,0.4)(3.65,-0.8)(3.65,-2.0)(3.65,-3.2)(3.65,-4.6)(3.75,0.7)(3.75,-0.5)(3.75,-1.7)(3.75,-2.9)(3.75,-3.9)(3.85,0.3)(3.85,-0.9)(3.85,-2.1)(3.85,-3.3)(3.95,0.8)(3.95,-0.4)(3.95,-1.5)(3.95,-2.6)(3.95,-3.7)(4.05,0.3)(4.05,-0.9)(4.05,-2.0)(4.05,-3.1)(4.15,1.0)(4.15,-0.2)(4.15,-1.3)(4.15,-2.4)(4.15,-3.4)(4.25,0.5)(4.25,-0.6)(4.25,-1.7)(4.25,-2.7)(4.35,1.2)(4.35,0)(4.35,-1.1)(4.35,-2.2)(4.45,0.8)(4.45,-0.4)(4.45,-1.5)(4.55,1.5)(4.55,0.3)(4.55,-0.9)(4.55,-2.0)(4.65,0.8)(4.65,-0.3)(4.65,-1.3)(4.75,0.2)(4.75,-0.9)(4.85,0.7)(4.85,-0.5)};
\addplot[zl] coordinates {(0,0)(7,0)};
\end{axis}
% ---------------- B4
\begin{axis}[panel, at={(483pt,-285pt)}, anchor=south west]
\addplot[gr] coordinates {(0.6,0.2)(0.7,0.25)(0.7,0.15)(0.8,0.3)(0.8,0.2)(0.9,0.3)(0.9,0.2)(1.0,0.25)(1.0,0.1)(1.1,0.2)(1.1,0)(1.2,0.1)(1.2,-0.2)(1.3,0)(1.3,-0.4)(1.3,-0.8)(1.4,-0.2)(1.4,-0.7)(1.4,-1.1)(1.5,-0.3)(1.5,-1.0)(1.5,-1.6)(1.6,-0.4)(1.6,-1.2)(1.6,-2.0)(1.7,-0.5)(1.7,-1.5)(1.7,-2.5)
(1.8,0)(1.8,-0.8)(1.8,-1.8)(1.8,-2.9)(1.9,-0.5)(1.9,-1.5)(1.9,-2.5)(1.9,-3.6)(2.0,-0.6)(2.0,-1.7)(2.0,-2.9)(2.0,-4.2)(2.1,-0.4)(2.1,-1.5)(2.1,-2.7)(2.1,-3.9)(2.1,-5.2)(2.2,-0.8)(2.2,-2.0)(2.2,-3.2)(2.2,-4.5)(2.2,-5.8)
(2.3,-0.5)(2.3,-1.7)(2.3,-3.0)(2.3,-4.3)(2.3,-5.6)(2.3,-7.0)(2.4,-1.0)(2.4,-2.3)(2.4,-3.6)(2.4,-4.9)(2.4,-6.3)(2.4,-8.6)(2.5,-0.4)(2.5,-1.6)(2.5,-2.9)(2.5,-4.2)(2.5,-5.6)(2.5,-7.5)(2.6,-0.8)(2.6,-2.1)(2.6,-3.4)(2.6,-4.8)(2.6,-6.2)(2.6,-8.0)
(2.7,-0.5)(2.7,-1.7)(2.7,-3.0)(2.7,-4.4)(2.7,-5.8)(2.7,-7.3)(2.7,-8.5)(2.8,-1.0)(2.8,-2.3)(2.8,-3.6)(2.8,-5.0)(2.8,-6.5)(2.8,-8.0)(2.9,-0.4)(2.9,-1.6)(2.9,-2.9)(2.9,-4.2)(2.9,-5.6)(2.9,-7.0)(3.0,-0.7)(3.0,-2.0)(3.0,-3.3)(3.0,-4.7)(3.0,-6.1)(3.0,-7.8)
(3.1,-0.5)(3.1,-1.8)(3.1,-3.1)(3.1,-4.4)(3.1,-5.8)(3.1,-7.2)(3.2,-1.0)(3.2,-2.3)(3.2,-3.6)(3.2,-5.0)(3.2,-6.3)(3.3,-0.6)(3.3,-1.9)(3.3,-3.2)(3.3,-4.5)(3.3,-5.9)(3.3,-7.1)(3.4,-1.2)(3.4,-2.5)(3.4,-3.8)(3.4,-5.2)(3.4,-6.5)(3.5,-0.7)(3.5,-2.0)(3.5,-3.3)(3.5,-4.6)(3.5,-6.0)
(3.6,-1.5)(3.6,-2.8)(3.6,-4.1)(3.6,-5.4)(3.6,-6.8)(3.7,-1.0)(3.7,-2.3)(3.7,-3.6)(3.7,-4.9)(3.7,-6.2)(3.8,-1.6)(3.8,-2.9)(3.8,-4.2)(3.8,-5.5)(3.9,-1.2)(3.9,-2.5)(3.9,-3.8)(3.9,-5.1)(3.9,-6.3)(4.0,-1.8)(4.0,-3.0)(4.0,-4.3)(4.0,-5.6)
(4.1,-1.4)(4.1,-2.6)(4.1,-3.9)(4.1,-5.2)(4.1,-6.1)(4.2,-2.0)(4.2,-3.2)(4.2,-4.5)(4.2,-5.8)(4.3,-1.6)(4.3,-2.9)(4.3,-4.1)(4.3,-5.4)(4.4,-2.3)(4.4,-3.5)(4.4,-4.7)(4.4,-6.0)(4.5,-2.0)(4.5,-3.2)(4.5,-4.4)(4.6,-2.5)(4.6,-3.7)(4.6,-5.0)(4.7,-2.2)(4.7,-3.4)(4.8,-3.0)(4.8,-5.6)(4.9,-3.3)(5.0,-3.0)
(0.65,0.22)(0.75,0.28)(0.85,0.25)(0.95,0.28)(1.05,0.18)(1.15,0.1)(1.25,-0.1)(1.25,-0.4)(1.35,-0.3)(1.35,-0.6)(1.35,-1.0)(1.45,-0.5)(1.45,-1.3)(1.55,-0.6)(1.55,-1.3)(1.55,-1.9)(1.65,-0.8)(1.65,-1.6)(1.65,-2.3)(1.75,-1.0)(1.75,-2.0)(1.75,-2.8)(1.85,-0.4)(1.85,-1.3)(1.85,-2.3)(1.85,-3.2)(1.95,-1.0)(1.95,-2.0)(1.95,-3.0)(1.95,-3.9)(2.05,-1.1)(2.05,-2.3)(2.05,-3.5)(2.05,-4.6)(2.15,-1.0)(2.15,-2.1)(2.15,-3.3)(2.15,-4.5)(2.15,-5.5)(2.25,-1.3)(2.25,-2.5)(2.25,-3.7)(2.25,-5.0)(2.25,-6.3)(2.35,-1.1)(2.35,-2.4)(2.35,-3.6)(2.35,-4.9)(2.35,-6.2)(2.35,-7.6)(2.45,-1.6)(2.45,-2.9)(2.45,-4.3)(2.45,-5.6)(2.45,-7.0)(2.55,-1.1)(2.55,-2.3)(2.55,-3.6)(2.55,-4.9)(2.55,-6.4)(2.55,-8.2)(2.65,-1.4)(2.65,-2.7)(2.65,-4.0)(2.65,-5.3)(2.65,-6.8)(2.75,-1.1)(2.75,-2.4)(2.75,-3.7)(2.75,-5.1)(2.75,-6.6)(2.75,-7.8)(2.85,-1.6)(2.85,-3.0)(2.85,-4.3)(2.85,-5.7)(2.85,-7.3)(2.95,-1.2)(2.95,-2.5)(2.95,-3.8)(2.95,-5.1)(2.95,-6.6)(2.95,-8.2)(3.05,-1.4)(3.05,-2.7)(3.05,-4.0)(3.05,-5.4)(3.05,-6.8)(3.15,-1.1)(3.15,-2.4)(3.15,-3.7)(3.15,-5.1)(3.15,-6.5)(3.25,-1.7)(3.25,-3.0)(3.25,-4.3)(3.25,-5.6)(3.25,-7.0)(3.35,-1.3)(3.35,-2.6)(3.35,-3.9)(3.35,-5.2)(3.35,-6.4)(3.45,-1.8)(3.45,-3.1)(3.45,-4.4)(3.45,-5.7)(3.55,-1.4)(3.55,-2.7)(3.55,-4.0)(3.55,-5.3)(3.55,-6.6)(3.65,-2.1)(3.65,-3.4)(3.65,-4.7)(3.65,-6.0)(3.75,-1.7)(3.75,-3.0)(3.75,-4.3)(3.75,-5.6)(3.85,-2.2)(3.85,-3.5)(3.85,-4.8)(3.85,-6.0)(3.95,-1.8)(3.95,-3.1)(3.95,-4.4)(3.95,-5.7)(4.05,-2.4)(4.05,-3.6)(4.05,-4.9)(4.05,-6.1)(4.15,-2.0)(4.15,-3.3)(4.15,-4.6)(4.15,-5.6)(4.25,-2.6)(4.25,-3.8)(4.25,-5.1)(4.35,-2.2)(4.35,-3.5)(4.35,-4.8)(4.35,-6.1)(4.45,-2.9)(4.45,-4.1)(4.45,-5.4)(4.55,-2.6)(4.55,-3.8)(4.55,-5.2)(4.65,-3.1)(4.65,-4.4)(4.75,-2.7)(4.75,-4.0)(4.85,-3.6)(4.95,-3.1)};
\addplot[zl] coordinates {(0,0)(7,0)};
\end{axis}

% ---------------- C1
\begin{axis}[panel, at={(42.5pt,-432pt)}, anchor=south west]
\addplot[pu] coordinates {(1.7,-0.1)(1.8,0)(1.8,-0.15)(1.9,-0.1)(2.0,-0.2)(2.0,0)(2.1,-0.1)(2.2,0.05)(2.2,-0.2)(2.3,-0.15)(2.4,0)(2.4,-0.25)(2.5,-0.1)(2.6,-0.3)(2.6,0.1)(2.7,-0.2)(2.8,-0.35)(2.8,0.1)(2.9,-0.2)(2.9,0.3)(3.0,-0.4)(3.0,0)
(3.1,-0.1)(3.1,0.4)(3.2,-0.5)(3.2,0.2)(3.3,-0.2)(3.4,-0.6)(3.4,0.3)(3.5,-0.3)(3.5,0.1)(3.6,-0.7)(3.6,0.5)(3.7,-0.4)(3.7,0)(3.8,-0.8)(3.8,0.3)(3.9,-0.5)(3.9,-0.1)(4.0,-0.9)(4.0,0.4)(4.1,-0.6)(4.1,0)(4.2,-1.0)(4.2,0.3)(4.2,-0.3)
(4.3,-0.7)(4.3,0.1)(4.4,-0.9)(4.4,-0.4)(4.5,-0.2)(4.5,0.3)(4.6,-0.8)(4.6,-0.5)(4.7,-0.1)(4.7,0.2)(4.8,-0.7)(4.8,-0.3)(4.9,0)(4.9,-0.5)(5.0,-0.6)(5.0,0.2)(5.1,-0.3)(5.2,-0.5)(5.2,0.1)(5.3,-0.2)(5.4,-0.6)(5.4,0.2)(5.5,-0.3)(5.6,-0.5)(5.6,0)
(5.7,-0.2)(5.8,-0.7)(5.8,0.3)(5.9,-0.3)(6.0,0)(6.0,0.4)(6.1,-0.4)(6.2,0.2)(6.2,-0.1)(6.3,-0.3)(6.4,0.1)
(3.2,5.9)(3.8,4.8)(4.0,4.7)(2.8,4.0)(3.2,4.1)(3.7,4.3)(2.9,3.3)(2.9,3.0)(3.0,2.7)(2.8,2.2)(3.0,2.0)(2.6,1.7)(3.1,1.2)(3.3,1.5)(3.5,2.2)(3.8,3.0)(3.9,2.2)(3.7,2.0)(4.0,1.6)(4.4,2.2)(4.7,2.7)(4.3,1.3)(3.6,1.0)(2.9,1.0)(3.4,0.8)(3.3,2.1)(2.8,1.5)(4.1,0.9)(3.0,0.6)
(2.85,-0.1)(3.05,-0.2)(3.25,-0.3)(3.45,-0.1)(3.55,-0.5)(3.75,-0.6)(3.85,-0.3)(3.95,-0.7)(4.05,-0.4)(4.15,-0.8)(4.25,-0.5)(4.35,-0.2)(4.45,-0.7)(4.55,-0.5)(4.65,-0.3)(4.75,-0.6)(4.85,-0.1)(4.95,-0.4)(5.05,-0.2)(5.15,-0.5)(5.35,-0.3)(5.55,-0.1)(5.75,-0.4)(5.95,0.1)(6.15,-0.2)};
\addplot[zl] coordinates {(0,0)(7,0)};
\end{axis}
% ---------------- C2
\begin{axis}[panel, at={(189.3pt,-432pt)}, anchor=south west]
\addplot[re] coordinates {(1.6,-0.5)(1.7,-0.4)(1.7,-0.6)(1.8,-0.3)(1.8,-0.5)(1.9,-0.2)(1.9,-0.4)(1.9,0)(2.0,-0.3)(2.0,0.1)(2.0,0.3)(2.1,-0.2)(2.1,0.2)(2.1,0.5)(2.2,-0.3)(2.2,0)(2.2,0.4)(2.3,-0.1)(2.3,0.3)(2.3,0.7)(2.4,-0.3)(2.4,0.2)(2.4,0.6)(2.4,0.9)
(2.5,0)(2.5,0.4)(2.5,0.8)(2.5,1.1)(2.6,-0.2)(2.6,0.2)(2.6,0.6)(2.6,1.0)(2.7,0)(2.7,0.5)(2.7,0.9)(2.7,1.3)(2.8,-0.3)(2.8,0.3)(2.8,0.7)(2.8,1.2)(2.9,0.1)(2.9,0.5)(2.9,1.0)(2.9,1.5)
(3.0,-0.3)(3.0,0.2)(3.0,0.8)(3.0,1.3)(3.0,1.6)(3.1,0)(3.1,0.5)(3.1,1.1)(3.1,1.7)(3.2,-0.2)(3.2,0.3)(3.2,0.9)(3.2,1.5)(3.2,2.0)(3.3,0.1)(3.3,0.6)(3.3,1.2)(3.3,1.8)(3.4,-0.3)(3.4,0.4)(3.4,1.0)(3.4,1.6)(3.4,2.2)
(3.5,0)(3.5,0.7)(3.5,1.3)(3.5,1.9)(3.5,2.3)(3.6,-0.4)(3.6,0.3)(3.6,1.0)(3.6,1.7)(3.6,2.5)(3.7,-0.7)(3.7,0)(3.7,0.8)(3.7,1.5)(3.7,2.2)(3.7,3.0)(3.8,-1.0)(3.8,-0.2)(3.8,0.6)(3.8,1.4)(3.8,2.2)(3.8,3.3)(3.9,-1.3)(3.9,-0.4)(3.9,0.4)(3.9,1.2)(3.9,2.0)(3.9,2.8)
(4.0,-1.5)(4.0,-0.6)(4.0,0.3)(4.0,1.1)(4.0,2.0)(4.0,2.9)(4.0,4.3)(4.1,-2.3)(4.1,-1.2)(4.1,-0.2)(4.1,0.8)(4.1,1.7)(4.1,2.6)(4.1,3.5)(4.2,-1.6)(4.2,-0.6)(4.2,0.4)(4.2,1.4)(4.2,2.4)(4.2,3.4)(4.2,4.0)(4.3,-1.4)(4.3,-0.4)(4.3,0.6)(4.3,1.6)(4.3,2.6)(4.3,3.6)
(4.4,-1.2)(4.4,-0.2)(4.4,0.9)(4.4,1.9)(4.4,2.9)(4.4,4.2)(4.5,-1.0)(4.5,0)(4.5,1.1)(4.5,2.1)(4.5,3.1)(4.5,4.0)(4.6,-0.8)(4.6,0.3)(4.6,1.4)(4.6,2.4)(4.6,3.4)(4.6,4.5)(4.7,-1.0)(4.7,-0.2)(4.7,0.8)(4.7,1.8)(4.7,2.8)(4.7,3.8)
(4.8,-0.7)(4.8,0.5)(4.8,1.5)(4.8,2.5)(4.8,3.5)(4.8,5.0)(4.9,-0.5)(4.9,0.2)(4.9,1.2)(4.9,2.2)(4.9,3.2)(4.9,4.3)(5.0,-0.6)(5.0,0.6)(5.0,1.7)(5.0,2.8)(5.0,3.9)(5.0,5.4)(5.1,-0.3)(5.1,0.4)(5.1,1.4)(5.1,2.5)(5.1,3.6)(5.1,4.6)(5.2,-0.2)(5.2,1.0)(5.2,2.0)(5.2,3.2)(5.2,4.0)(5.3,0.3)(5.3,1.8)(5.3,3.4)
(1.65,-0.45)(1.75,-0.5)(1.75,-0.2)(1.85,-0.35)(1.85,-0.1)(1.95,-0.3)(1.95,0.2)(2.05,-0.1)(2.05,0.35)(2.15,0)(2.15,0.4)(2.25,-0.2)(2.25,0.25)(2.25,0.6)(2.35,0)(2.35,0.5)(2.35,0.8)(2.45,-0.1)(2.45,0.4)(2.45,0.8)(2.55,-0.2)(2.55,0.2)(2.55,0.6)(2.55,1.0)(2.65,0)(2.65,0.4)(2.65,0.8)(2.65,1.2)(2.75,-0.2)(2.75,0.2)(2.75,0.7)(2.75,1.1)(2.85,0)(2.85,0.5)(2.85,0.9)(2.85,1.4)(2.95,-0.2)(2.95,0.3)(2.95,0.8)(2.95,1.3)(3.05,0)(3.05,0.5)(3.05,1.0)(3.05,1.5)(3.15,-0.2)(3.15,0.3)(3.15,0.8)(3.15,1.4)(3.15,1.9)(3.25,0)(3.25,0.6)(3.25,1.2)(3.25,1.7)(3.35,-0.1)(3.35,0.4)(3.35,0.9)(3.35,1.5)(3.35,2.0)(3.45,0.1)(3.45,0.7)(3.45,1.3)(3.45,1.9)(3.55,-0.2)(3.55,0.4)(3.55,1.0)(3.55,1.6)(3.55,2.2)(3.65,0)(3.65,0.6)(3.65,1.3)(3.65,2.0)(3.75,-0.4)(3.75,0.4)(3.75,1.1)(3.75,1.9)(3.75,2.6)(3.85,-0.6)(3.85,0.2)(3.85,1.0)(3.85,1.8)(3.85,2.6)(3.95,-0.9)(3.95,0)(3.95,0.8)(3.95,1.6)(3.95,2.4)(3.95,3.3)(4.05,-1.0)(4.05,-0.1)(4.05,0.7)(4.05,1.5)(4.05,2.4)(4.05,3.2)(4.15,-1.7)(4.15,-0.8)(4.15,0.2)(4.15,1.2)(4.15,2.1)(4.15,3.0)(4.15,3.8)(4.25,-1.1)(4.25,-0.1)(4.25,0.9)(4.25,1.9)(4.25,2.9)(4.25,3.8)(4.35,-0.9)(4.35,0.1)(4.35,1.1)(4.35,2.1)(4.35,3.1)(4.35,4.0)(4.45,-0.7)(4.45,0.4)(4.45,1.4)(4.45,2.4)(4.45,3.5)(4.55,-0.5)(4.55,0.6)(4.55,1.6)(4.55,2.6)(4.55,3.6)(4.65,-0.3)(4.65,0.8)(4.65,1.9)(4.65,2.9)(4.65,4.0)(4.75,-0.5)(4.75,0.3)(4.75,1.3)(4.75,2.3)(4.75,3.3)(4.75,4.4)(4.85,-0.2)(4.85,1.0)(4.85,2.0)(4.85,3.0)(4.85,4.1)(4.95,-0.3)(4.95,0.7)(4.95,1.7)(4.95,2.7)(4.95,3.7)(4.95,4.8)(5.05,0)(5.05,1.1)(5.05,2.2)(5.05,3.3)(5.05,4.3)(5.15,0)(5.15,0.9)(5.15,2.0)(5.15,3.0)(5.15,4.2)(5.25,0.5)(5.25,1.5)(5.25,2.6)(5.25,3.6)};
\addplot[zl] coordinates {(0,0)(7,0)};
\end{axis}
% ---------------- C3
\begin{axis}[panel, at={(336pt,-432pt)}, anchor=south west]
\addplot[bl] coordinates {(1.7,0.7)(1.8,0.6)(1.8,0.9)(1.9,0.7)(1.9,1.0)(2.0,0.5)(2.0,0.8)(2.0,1.1)(2.1,0.6)(2.1,1.0)(2.2,0.4)(2.2,0.8)(2.2,1.2)(2.3,0.3)(2.3,0.7)(2.3,1.1)(2.4,0.2)(2.4,0.6)(2.4,1.0)(2.4,1.3)(2.5,0.4)(2.5,0.9)(2.5,1.2)
(2.6,0)(2.6,0.5)(2.6,1.0)(2.6,1.4)(2.7,-0.1)(2.7,0.3)(2.7,0.8)(2.7,1.3)(2.8,-0.2)(2.8,0.4)(2.8,0.9)(2.8,1.5)(2.9,-0.4)(2.9,0.1)(2.9,0.7)(2.9,1.2)(2.9,2.1)(3.0,-0.5)(3.0,0.2)(3.0,0.8)(3.0,1.4)
(3.1,-0.6)(3.1,0)(3.1,0.6)(3.1,1.1)(3.1,1.7)(3.2,-0.7)(3.2,-0.1)(3.2,0.5)(3.2,1.2)(3.2,1.8)(3.3,-0.9)(3.3,-0.2)(3.3,0.4)(3.3,1.0)(3.3,1.6)(3.4,-0.8)(3.4,0)(3.4,0.7)(3.4,1.4)(3.4,2.0)(3.5,-1.0)(3.5,-0.3)(3.5,0.4)(3.5,1.1)(3.5,1.8)
(3.6,-1.2)(3.6,-0.5)(3.6,0.2)(3.6,0.9)(3.6,1.6)(3.6,2.2)(3.7,-1.4)(3.7,-0.6)(3.7,0.1)(3.7,0.8)(3.7,1.5)(3.7,2.4)(3.8,-1.6)(3.8,-0.8)(3.8,0)(3.8,0.8)(3.8,1.6)(3.8,2.6)(3.9,-1.8)(3.9,-1.0)(3.9,-0.2)(3.9,0.6)(3.9,1.4)(3.9,2.2)(3.9,3.7)
(4.0,-2.0)(4.0,-1.2)(4.0,-0.3)(4.0,0.6)(4.0,1.5)(4.0,2.4)(4.0,3.1)(4.1,-3.2)(4.1,-2.3)(4.1,-1.4)(4.1,-0.5)(4.1,0.4)(4.1,1.3)(4.1,2.2)(4.1,3.0)(4.2,-2.4)(4.2,-1.5)(4.2,-0.6)(4.2,0.3)(4.2,1.2)(4.2,2.1)(4.2,3.0)
(4.3,-2.3)(4.3,-1.4)(4.3,-0.4)(4.3,0.5)(4.3,1.4)(4.3,2.4)(4.3,3.5)(4.4,-2.0)(4.4,-1.1)(4.4,-0.2)(4.4,0.7)(4.4,1.6)(4.4,2.6)(4.5,-2.1)(4.5,-1.2)(4.5,-0.3)(4.5,0.6)(4.5,1.6)(4.5,2.5)(4.5,3.4)(4.6,-2.0)(4.6,-1.0)(4.6,0)(4.6,1.0)(4.6,2.0)(4.6,3.0)
(4.7,-1.7)(4.7,-0.8)(4.7,0.2)(4.7,1.2)(4.7,2.2)(4.7,3.2)(4.8,-1.5)(4.8,-0.6)(4.8,0.4)(4.8,1.4)(4.8,2.4)(4.8,3.8)(4.9,-1.2)(4.9,-0.3)(4.9,0.7)(4.9,1.7)(4.9,2.7)(4.9,3.5)(5.0,-1.0)(5.0,0)(5.0,1.0)(5.0,2.0)(5.0,3.0)(5.0,4.5)
(5.1,-0.6)(5.1,0.3)(5.1,1.3)(5.1,2.3)(5.1,3.3)(5.2,-0.3)(5.2,0.5)(5.2,1.5)(5.2,2.6)(5.2,3.7)(5.2,4.7)(5.3,0)(5.3,0.3)(5.3,2.2)(5.3,3.2)(5.3,4.4)(5.4,0.2)(5.4,2.8)(5.4,5.2)
(1.75,0.8)(1.85,0.75)(1.95,0.85)(1.95,0.6)(2.05,0.7)(2.05,0.95)(2.15,0.5)(2.15,0.8)(2.15,1.1)(2.25,0.6)(2.25,1.0)(2.35,0.5)(2.35,0.9)(2.35,1.2)(2.45,0.4)(2.45,0.8)(2.45,1.1)(2.55,0.2)(2.55,0.6)(2.55,1.0)(2.55,1.3)(2.65,0.3)(2.65,0.7)(2.65,1.2)(2.75,0.1)(2.75,0.6)(2.75,1.0)(2.75,1.5)(2.85,0.1)(2.85,0.6)(2.85,1.2)(2.95,-0.1)(2.95,0.4)(2.95,1.0)(2.95,1.5)(3.05,-0.2)(3.05,0.5)(3.05,1.1)(3.05,1.6)(3.15,-0.3)(3.15,0.3)(3.15,0.9)(3.15,1.4)(3.25,-0.4)(3.25,0.2)(3.25,0.8)(3.25,1.5)(3.35,-0.5)(3.35,0.1)(3.35,0.7)(3.35,1.3)(3.35,1.9)(3.45,-0.4)(3.45,0.3)(3.45,1.0)(3.45,1.7)(3.55,-0.7)(3.55,0)(3.55,0.7)(3.55,1.4)(3.55,2.1)(3.65,-0.9)(3.65,-0.2)(3.65,0.5)(3.65,1.2)(3.65,1.9)(3.75,-1.0)(3.75,-0.3)(3.75,0.4)(3.75,1.1)(3.75,1.9)(3.85,-1.2)(3.85,-0.4)(3.85,0.4)(3.85,1.2)(3.85,2.0)(3.95,-1.4)(3.95,-0.6)(3.95,0.2)(3.95,1.0)(3.95,1.8)(3.95,2.8)(4.05,-1.6)(4.05,-0.8)(4.05,0.1)(4.05,1.0)(4.05,1.9)(4.05,2.7)(4.15,-2.7)(4.15,-1.8)(4.15,-0.9)(4.15,0)(4.15,0.9)(4.15,1.8)(4.15,2.6)(4.25,-2.0)(4.25,-1.0)(4.25,-0.1)(4.25,0.8)(4.25,1.7)(4.25,2.7)(4.35,-1.8)(4.35,-0.9)(4.35,0.1)(4.35,1.0)(4.35,1.9)(4.35,2.9)(4.45,-1.6)(4.45,-0.6)(4.45,0.3)(4.45,1.2)(4.45,2.1)(4.45,3.0)(4.55,-1.6)(4.55,-0.6)(4.55,0.4)(4.55,1.3)(4.55,2.3)(4.55,3.1)(4.65,-1.4)(4.65,-0.4)(4.65,0.6)(4.65,1.6)(4.65,2.6)(4.65,3.4)(4.75,-1.2)(4.75,-0.2)(4.75,0.8)(4.75,1.8)(4.75,2.8)(4.85,-1.0)(4.85,0)(4.85,1.0)(4.85,2.0)(4.85,3.1)(4.95,-0.8)(4.95,0.2)(4.95,1.2)(4.95,2.2)(4.95,3.2)(4.95,4.0)(5.05,-0.6)(5.05,0.5)(5.05,1.5)(5.05,2.5)(5.05,3.5)(5.15,-0.3)(5.15,0.8)(5.15,1.8)(5.15,2.9)(5.15,4.0)(5.25,0)(5.25,1.0)(5.25,2.0)(5.25,3.0)(5.25,4.2)(5.35,0.6)(5.35,1.6)(5.35,2.6)(5.35,3.8)};
\addplot[zl] coordinates {(0,0)(7,0)};
\end{axis}
% ---------------- C4
\begin{axis}[panel, at={(483pt,-432pt)}, anchor=south west]
\addplot[gr] coordinates {(1.6,0.1)(1.7,0)(1.7,0.15)(1.8,-0.1)(1.8,0.2)(1.9,-0.2)(1.9,0.1)(2.0,-0.4)(2.0,0)(2.0,0.2)(2.1,-0.5)(2.1,-0.1)(2.2,-0.6)(2.2,-0.2)(2.2,0.1)(2.3,-0.7)(2.3,-0.3)(2.3,0.4)(2.4,-0.8)(2.4,-0.4)(2.4,0)(2.5,-1.0)(2.5,-0.5)(2.5,0.1)
(2.6,-1.1)(2.6,-0.6)(2.6,-0.1)(2.7,-1.3)(2.7,-0.8)(2.7,-0.2)(2.7,0.2)(2.8,-1.5)(2.8,-0.9)(2.8,-0.3)(2.9,-1.7)(2.9,-1.0)(2.9,-0.4)(2.9,0.4)(3.0,-1.8)(3.0,-1.2)(3.0,-0.6)(3.0,0)(3.1,-2.0)(3.1,-1.4)(3.1,-0.7)(3.1,-0.1)
(3.2,-2.3)(3.2,-1.6)(3.2,-0.9)(3.2,-0.2)(3.3,-2.6)(3.3,-1.8)(3.3,-1.0)(3.3,-0.3)(3.4,-2.8)(3.4,-2.0)(3.4,-1.2)(3.4,-0.4)(3.4,0.2)(3.5,-3.0)(3.5,-2.2)(3.5,-1.4)(3.5,-0.6)(3.6,-3.3)(3.6,-2.4)(3.6,-1.5)(3.6,-0.7)(3.6,0)
(3.7,-3.6)(3.7,-2.6)(3.7,-1.7)(3.7,-0.8)(3.8,-4.0)(3.8,-3.0)(3.8,-2.0)(3.8,-1.0)(3.8,-0.2)(3.9,-4.4)(3.9,-3.3)(3.9,-2.2)(3.9,-1.2)(3.9,-0.3)(4.0,-5.0)(4.0,-3.8)(4.0,-2.6)(4.0,-1.5)(4.0,-0.5)(4.0,0.9)
(4.1,-6.0)(4.1,-4.5)(4.1,-3.3)(4.1,-2.1)(4.1,-1.0)(4.1,0)(4.2,-5.4)(4.2,-4.2)(4.2,-3.0)(4.2,-1.8)(4.2,-0.7)(4.2,0.5)(4.3,-5.6)(4.3,-4.4)(4.3,-3.2)(4.3,-2.0)(4.3,-0.9)(4.3,0.3)(4.4,-5.3)(4.4,-4.0)(4.4,-2.8)(4.4,-1.6)(4.4,-0.4)(4.4,1.5)
(4.5,-5.5)(4.5,-4.3)(4.5,-3.0)(4.5,-1.8)(4.5,-0.7)(4.5,0.4)(4.6,-5.4)(4.6,-4.1)(4.6,-2.8)(4.6,-1.5)(4.6,-0.3)(4.7,-5.5)(4.7,-4.4)(4.7,-3.2)(4.7,-2.0)(4.7,-0.8)(4.8,-5.3)(4.8,-4.0)(4.8,-2.7)(4.8,-1.4)(4.8,-0.2)
(4.9,-5.0)(4.9,-3.7)(4.9,-2.4)(4.9,-1.1)(5.0,-4.8)(5.0,-3.4)(5.0,-2.0)(5.0,-0.7)(5.0,0.3)(5.1,-4.5)(5.1,-3.1)(5.1,-1.8)(5.1,-0.5)(5.2,-4.3)(5.2,-3.0)(5.2,-1.6)(5.2,-0.3)(5.3,-4.0)(5.3,-2.6)(5.3,-1.2)(5.4,-3.8)(5.4,-2.2)(5.4,-0.8)
(5.5,-3.5)(5.5,-1.5)(5.5,0.7)(5.6,-3.2)(5.6,-1.0)(5.7,-3.0)(5.7,-1.8)(5.8,-2.5)(5.8,-0.8)(5.9,-2.2)(5.9,0.5)(6.0,-2.0)(6.0,-1.2)(6.0,1.6)(6.1,-1.5)(6.1,0.6)(6.2,-1.0)(6.3,0.2)(6.3,-1.3)(6.4,-0.8)(6.4,0.6)(6.5,-2.2)(6.5,-1.0)
(1.65,0.05)(1.75,0.1)(1.85,0)(1.95,-0.1)(2.05,-0.2)(2.05,0.1)(2.15,-0.3)(2.15,0)(2.25,-0.4)(2.25,-0.05)(2.35,-0.5)(2.35,-0.1)(2.45,-0.6)(2.45,-0.2)(2.55,-0.8)(2.55,-0.3)(2.65,-0.9)(2.65,-0.4)(2.75,-1.0)(2.75,-0.5)(2.85,-1.2)(2.85,-0.6)(2.85,0)(2.95,-1.4)(2.95,-0.7)(2.95,-0.1)(3.05,-1.5)(3.05,-0.9)(3.05,-0.3)(3.15,-1.7)(3.15,-1.0)(3.15,-0.4)(3.25,-1.9)(3.25,-1.2)(3.25,-0.5)(3.35,-2.2)(3.35,-1.4)(3.35,-0.6)(3.45,-2.4)(3.45,-1.6)(3.45,-0.8)(3.55,-2.6)(3.55,-1.8)(3.55,-1.0)(3.55,-0.2)(3.65,-2.9)(3.65,-2.0)(3.65,-1.1)(3.65,-0.3)(3.75,-3.1)(3.75,-2.2)(3.75,-1.3)(3.75,-0.4)(3.85,-3.5)(3.85,-2.5)(3.85,-1.5)(3.85,-0.6)(3.95,-3.9)(3.95,-2.8)(3.95,-1.8)(3.95,-0.8)(3.95,0.2)(4.05,-4.4)(4.05,-3.2)(4.05,-2.1)(4.05,-1.0)(4.05,0)(4.15,-5.2)(4.15,-3.9)(4.15,-2.7)(4.15,-1.5)(4.15,-0.4)(4.25,-4.8)(4.25,-3.6)(4.25,-2.4)(4.25,-1.2)(4.25,-0.2)(4.35,-5.0)(4.35,-3.8)(4.35,-2.6)(4.35,-1.4)(4.35,-0.3)(4.45,-4.7)(4.45,-3.5)(4.45,-2.3)(4.45,-1.1)(4.45,0)(4.55,-5.0)(4.55,-3.7)(4.55,-2.4)(4.55,-1.2)(4.65,-4.8)(4.65,-3.5)(4.65,-2.2)(4.65,-0.9)(4.75,-5.0)(4.75,-3.8)(4.75,-2.6)(4.75,-1.4)(4.75,-0.3)(4.85,-4.6)(4.85,-3.4)(4.85,-2.1)(4.85,-0.8)(4.95,-4.4)(4.95,-3.1)(4.95,-1.8)(4.95,-0.5)(5.05,-4.1)(5.05,-2.7)(5.05,-1.4)(5.15,-3.8)(5.15,-2.4)(5.15,-1.1)(5.25,-3.6)(5.25,-2.3)(5.25,-0.9)(5.35,-3.2)(5.35,-1.8)(5.45,-2.9)(5.45,-1.2)(5.55,-2.5)(5.65,-2.2)(5.75,-1.2)(5.85,-1.6)(6.05,-0.6)(6.25,-1.8)};
\addplot[zl] coordinates {(0,0)(7,0)};
\end{axis}
\end{tikzpicture}
\end{document}
